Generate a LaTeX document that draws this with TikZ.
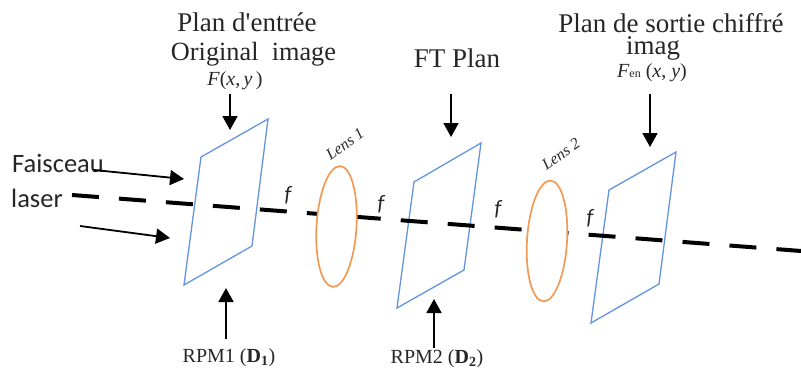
\documentclass[tikz,border=0pt]{standalone}
\usepackage{fontspec}
\usepackage{xcolor}
\setmainfont{Liberation Serif}
\newfontfamily\calibrifont{Carlito}
\usetikzlibrary{arrows.meta,positioning,shapes.geometric}
\definecolor{ink}{HTML}{262626}
\definecolor{planeblue}{HTML}{6394E0}
\definecolor{lensorange}{HTML}{F29A55}
\tikzset{
  planebox/.style={draw=planeblue,line width=1.3pt,line join=miter},
  lensring/.style={ellipse,draw=lensorange,fill=white,line width=1.7pt,inner sep=0pt,
                   minimum width=40pt,minimum height=121pt,rotate=-3.5},
  beamline/.style={draw=black,line width=4pt,dash pattern=on 27pt off 20.1pt},
  blackarr/.style={-{Triangle[length=14pt,width=15pt]},line width=1.8pt,draw=black},
  titlelabel/.style={font=\fontsize{27}{29}\selectfont,text=ink,inner sep=0pt},
  smalllabel/.style={font=\fontsize{20}{22}\selectfont,text=ink,inner sep=0pt},
  lenslabel/.style={font=\itshape\fontsize{16}{18}\selectfont,text=ink,inner sep=0pt,rotate=35},
  sidelabel/.style={font=\calibrifont\fontsize{26.5}{28}\selectfont,text=ink,inner sep=0pt},
  focallabel/.style={font=\calibrifont\itshape\fontsize{22}{24}\selectfont,text=ink,inner sep=0pt}
}
\begin{document}
\begin{tikzpicture}[x=1pt,y=-1pt]
    \path[use as bounding box] (0,0) rectangle (801,370);
    \node[titlelabel] (entree) at (247,22) {Plan d\textquotesingle entrée};
    \node[titlelabel,font=\fontsize{26.3}{29}\selectfont] (original) at (253.5,54) {Original~ image};
    \node[smalllabel] (fxy) at (235,81) {\textit{F}(\textit{x},\,\textit{y}\,)};
    \node[titlelabel] (ftplan) at (457,58) {FT Plan};
    \node[titlelabel] (sortie) at (671,23) {Plan de sortie chiffré};
    \node[titlelabel] (imag) at (653,48) {imag};
    \node[smalllabel] (fen) at (652,72.5) {\textit{F}{\fontsize{12}{12}\selectfont en} (\textit{x}, \textit{y})};
    \node[sidelabel] (faisceau) at (58,163) {Faisceau};
    \node[sidelabel] (laser) at (37,198) {laser};
    \node[smalllabel] (rpmone) at (229,358) {RPM1 (\textbf{D\textsubscript{1}})};
    \node[smalllabel] (rpmtwo) at (437,359) {RPM2 (\textbf{D\textsubscript{2}})};
    \draw[planebox] (201,157) -- (268,119) -- (252,246) -- (184,285) -- cycle;
    \draw[planebox] (414,182) -- (481,143) -- (464,270) -- (397,308) -- cycle;
    \draw[planebox] (609,190) -- (676,152) -- (659,284) -- (591,323) -- cycle;
    \coordinate (beamstart) at (72,195);
    \coordinate (beamend) at (801,251);
    \draw[beamline] (beamstart) -- (beamend);
    \node[lensring] (lensone) at (336.5,226.5) {};
    \node[lensring] (lenstwo) at (547,241) {};
    \node[lenslabel] (lensonetext) at (345,144) {Lens 1};
    \node[lenslabel] (lenstwotext) at (561,154) {Lens 2};
    \node[focallabel] (fone) at (288,195) {f};
    \node[focallabel] (ftwo) at (381,204) {f};
    \node[focallabel] (fthree) at (498,209) {f};
    \node[focallabel] (ffour) at (590,218) {f};
    \coordinate (arrowonea) at (230,94);
    \coordinate (arrowoneb) at (230,130);
    \coordinate (arrowtwoa) at (451,94);
    \coordinate (arrowtwob) at (451,137);
    \coordinate (arrowthreea) at (650,94);
    \coordinate (arrowthreeb) at (650,147);
    \coordinate (arrowfoura) at (226,339);
    \coordinate (arrowfourb) at (226,288);
    \coordinate (arrowfivea) at (434,348);
    \coordinate (arrowfiveb) at (434,299);
    \coordinate (arrowsixa) at (94,170);
    \coordinate (arrowsixb) at (184,179);
    \coordinate (arrowsevena) at (80,226);
    \coordinate (arrowsevenb) at (170,238);
    \draw[blackarr] (arrowonea) -- (arrowoneb);
    \draw[blackarr] (arrowtwoa) -- (arrowtwob);
    \draw[blackarr] (arrowthreea) -- (arrowthreeb);
    \draw[blackarr] (arrowfoura) -- (arrowfourb);
    \draw[blackarr] (arrowfivea) -- (arrowfiveb);
    \draw[blackarr] (arrowsixa) -- (arrowsixb);
    \draw[blackarr] (arrowsevena) -- (arrowsevenb);
  \end{tikzpicture}
\end{document}
